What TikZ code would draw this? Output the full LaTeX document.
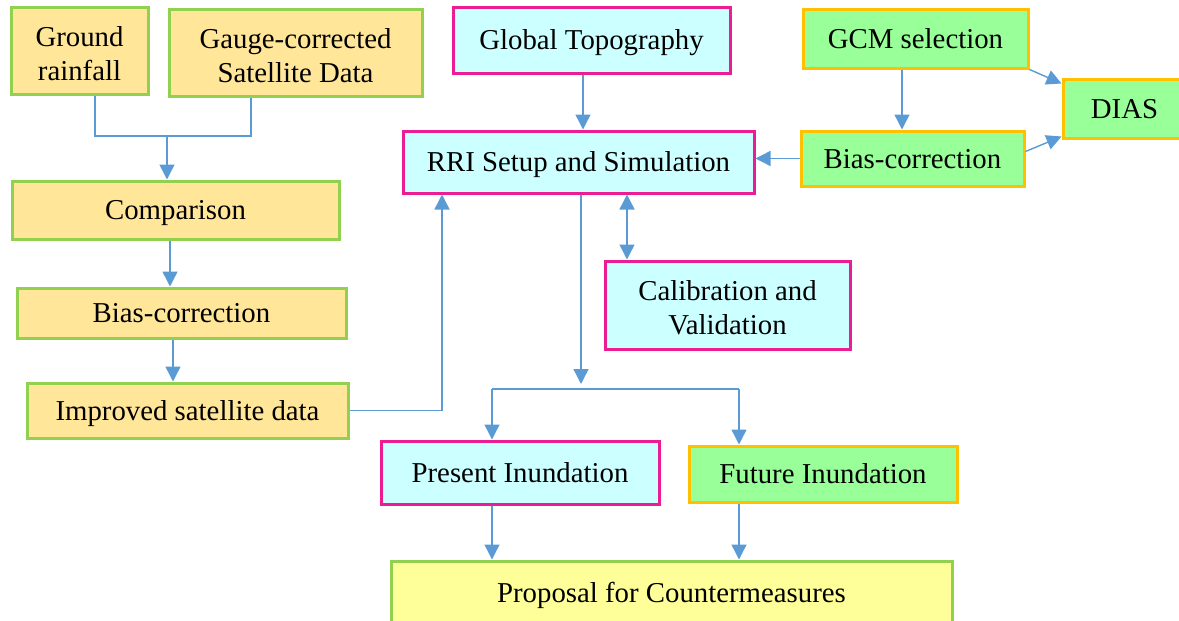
\documentclass[tikz,border=0pt]{standalone}
\usepackage{fontspec}
\setmainfont{Liberation Serif}
\usetikzlibrary{arrows.meta}
\definecolor{tanfill}{RGB}{255,230,153}
\definecolor{lgrn}{RGB}{146,208,80}
\definecolor{cyanfill}{RGB}{204,255,255}
\definecolor{boxpink}{RGB}{236,28,148}
\definecolor{grnfill}{RGB}{153,255,153}
\definecolor{boxorange}{RGB}{255,192,0}
\definecolor{yelfill}{RGB}{255,255,153}
\definecolor{arrblue}{RGB}{91,155,213}
\begin{document}
\begin{tikzpicture}[x=1pt,y=-1pt]
	\tikzstyle{every node}+=[inner sep=0pt,align=center,font=\fontsize{28.8}{34}\selectfont]
	\tikzstyle{one}=[text height=19pt,text depth=0pt]
	\tikzstyle{two}=[text height=59pt,text depth=0pt]
	\tikzstyle{obox}=[draw=lgrn,fill=tanfill,line width=3pt]
	\tikzstyle{cbox}=[draw=boxpink,fill=cyanfill,line width=3pt]
	\tikzstyle{gbox}=[draw=boxorange,fill=grnfill,line width=3pt]
	\tikzstyle{ybox}=[draw=lgrn,fill=yelfill,line width=3pt]
	\tikzstyle{link}=[draw=arrblue,line width=1.4pt]
	\tikzstyle{arr}=[link,-{Triangle[length=15pt,width=15pt]}]
	\tikzstyle{darr}=[link,{Triangle[length=15pt,width=15pt]}-{Triangle[length=15pt,width=15pt]}]
	\useasboundingbox (0,0) rectangle (1179,621);
	\clip (0,0) rectangle (1179,621);
	\node [obox,two,minimum width=137,minimum height=87] (ground) at (79.5,50.5) {Ground\\rainfall};
	\node [obox,two,minimum width=253,minimum height=87] (gauge) at (295.5,52.5) {Gauge-corrected\\Satellite Data};
	\node [obox,one,minimum width=327,minimum height=58] (comp) at (175.5,210) {Comparison};
	\node [obox,one,minimum width=329,minimum height=50] (bias1) at (181.5,313) {Bias-correction};
	\node [obox,one,minimum width=321,minimum height=55] (impr) at (187.5,410.5) {Improved satellite data};
	\node [cbox,one,minimum width=277,minimum height=66] (topo) at (591.5,40) {Global Topography};
	\node [cbox,one,minimum width=351,minimum height=62] (rri) at (578.5,162) {RRI Setup and Simulation};
	\node [cbox,two,minimum width=245,minimum height=88] (calib) at (727.5,305) {Calibration and\\Validation};
	\node [gbox,one,minimum width=225,minimum height=59] (gcm) at (915.5,38.5) {GCM selection};
	\node [gbox,one,minimum width=223,minimum height=55] (bias2) at (912.5,158.5) {Bias-correction};
	\node [gbox,one,minimum width=123,minimum height=59] (dias) at (1124.5,108.5) {DIAS};
	\node [cbox,one,minimum width=278,minimum height=63] (pres) at (520,472.5) {Present Inundation};
	\node [gbox,one,minimum width=268,minimum height=56] (fut) at (823,474) {Future Inundation};
	\node [ybox,one,minimum width=561,minimum height=64] (prop) at (671.5,593) {Proposal for Countermeasures};
	\coordinate (jn) at (167,136);
	\coordinate (xa) at (95,0);
	\coordinate (xb) at (251,0);
	\coordinate (xc) at (170,0);
	\coordinate (xd) at (173,0);
	\coordinate (xe) at (442,0);
	\coordinate (xf) at (583,0);
	\coordinate (xg) at (581,384);
	\coordinate (xh) at (627,0);
	\coordinate (xi) at (902,0);
	\coordinate (bl) at (492,389);
	\coordinate (br) at (739,389);
	\draw [link] (ground.south -| xa) |- (jn) -| (gauge.south -| xb);
	\draw [arr] (jn) -- (comp.north -| jn);
	\draw [arr] (comp.south -| xc) -- (bias1.north -| xc);
	\draw [arr] (bias1.south -| xd) -- (impr.north -| xd);
	\draw [arr] (impr.east) -| (rri.south -| xe);
	\draw [arr] (topo.south -| xf) -- (rri.north -| xf);
	\draw [arr] (rri.south -| xg) -- (xg);
	\draw [darr] (rri.south -| xh) -- (calib.north -| xh);
	\draw [arr] (gcm.south -| xi) -- (bias2.north -| xi);
	\draw [arr] (bias2.west) -- (rri.east |- bias2.west);
	\draw [arr] (gcm.south east) -- ([yshift=-6pt]dias.north west);
	\draw [arr] ([yshift=7pt]bias2.east) -- ([yshift=3pt]dias.south west);
	\draw [link] (bl) -- (br);
	\draw [arr] (bl) -- (pres.north -| bl);
	\draw [arr] (br) -- (fut.north -| br);
	\draw [arr] (pres.south -| bl) -- (prop.north -| bl);
	\draw [arr] (fut.south -| br) -- (prop.north -| br);
\end{tikzpicture}
\end{document}
